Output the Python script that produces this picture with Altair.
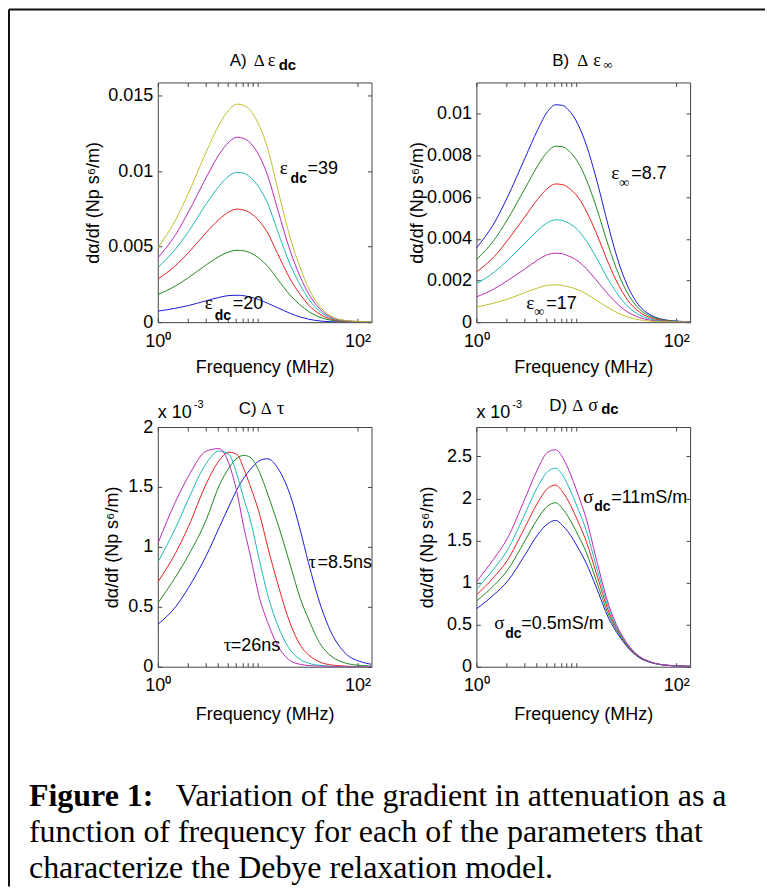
import altair as alt
import pandas as pd

# ---------------- data (values in units of 1e-3 Np s^6/m) ----------------
FREQ = [1, 1.51, 2.03, 3.07, 4.11, 5.17, 6.22, 7.28, 8.33, 10.47, 12.6, 15.8,
        21.2, 26.7, 32.2, 43.1, 54.2, 76.0, 109.6, 137.7]

A_ORDER = ["blue", "green", "red", "cyan", "magenta", "yellow"]
A_blue = [0.73, 0.92, 1.1, 1.42, 1.64, 1.76, 1.78, 1.75, 1.67, 1.47, 1.25, 0.96, 0.58, 0.34, 0.2, 0.07, 0.03, 0.01, 0.0, 0.0]
A_green = [1.83, 2.4, 2.95, 3.8, 4.35, 4.65, 4.76, 4.72, 4.6, 4.2, 3.7, 2.85, 1.78, 1.13, 0.72, 0.3, 0.13, 0.04, 0.01, 0.0]
A_red = [2.85, 3.75, 4.6, 5.95, 6.8, 7.3, 7.48, 7.42, 7.25, 6.65, 5.9, 4.55, 2.85, 1.82, 1.15, 0.48, 0.2, 0.06, 0.02, 0.01]
A_cyan = [3.6, 4.85, 6.0, 7.85, 9.0, 9.68, 9.92, 9.85, 9.62, 8.85, 7.85, 6.05, 3.8, 2.45, 1.55, 0.65, 0.28, 0.08, 0.03, 0.01]
A_magenta = [4.25, 5.8, 7.3, 9.6, 11.1, 11.92, 12.24, 12.15, 11.9, 10.95, 9.7, 7.5, 4.7, 3.0, 1.9, 0.8, 0.34, 0.1, 0.03, 0.01]
A_yellow = [4.91, 6.78, 8.55, 11.3, 13.06, 14.05, 14.43, 14.34, 14.05, 12.95, 11.5, 8.88, 5.57, 3.59, 2.27, 0.95, 0.40, 0.11, 0.04, 0.02]

B_ORDER = ["blue", "green", "red", "cyan", "magenta", "yellow"]
B_blue = [3.56, 4.76, 5.96, 7.88, 9.23, 10.11, 10.43, 10.4, 10.19, 9.47, 8.51, 6.92, 4.52, 2.84, 1.8, 0.77, 0.37, 0.12, 0.04, 0.02]
B_green = [3.0, 3.95, 4.9, 6.42, 7.5, 8.18, 8.44, 8.42, 8.24, 7.65, 6.85, 5.55, 3.6, 2.27, 1.44, 0.62, 0.3, 0.1, 0.03, 0.01]
B_red = [2.4, 3.15, 3.9, 5.07, 5.9, 6.42, 6.63, 6.6, 6.45, 5.98, 5.33, 4.3, 2.78, 1.75, 1.1, 0.48, 0.23, 0.07, 0.02, 0.01]
B_cyan = [1.84, 2.4, 2.95, 3.8, 4.4, 4.78, 4.91, 4.88, 4.76, 4.4, 3.9, 3.12, 2.0, 1.26, 0.79, 0.34, 0.16, 0.05, 0.02, 0.01]
B_magenta = [1.21, 1.6, 1.98, 2.56, 2.98, 3.24, 3.31, 3.28, 3.18, 2.92, 2.57, 2.03, 1.3, 0.81, 0.51, 0.22, 0.1, 0.03, 0.01, 0.0]
B_yellow = [0.72, 0.92, 1.1, 1.42, 1.64, 1.77, 1.79, 1.76, 1.7, 1.55, 1.36, 1.06, 0.67, 0.42, 0.26, 0.11, 0.05, 0.02, 0.01, 0.0]

C_ORDER = ["blue", "green", "red", "cyan", "magenta"]
C_blue = [0.354, 0.5, 0.66, 0.93, 1.16, 1.34, 1.48, 1.576, 1.64, 1.72, 1.735, 1.66, 1.43, 1.14, 0.87, 0.5, 0.29, 0.11, 0.04, 0.02]
C_green = [0.53, 0.75, 0.93, 1.23, 1.51, 1.66, 1.74, 1.763, 1.75, 1.62, 1.44, 1.2, 0.85, 0.57, 0.4, 0.18, 0.09, 0.03, 0.01, 0.005]
C_red = [0.706, 0.95, 1.17, 1.53, 1.72, 1.79, 1.77, 1.65, 1.52, 1.27, 1.0, 0.7, 0.36, 0.18, 0.1, 0.035, 0.015, 0.005, 0.0, 0.0]
C_cyan = [0.87, 1.16, 1.40, 1.70, 1.80, 1.77, 1.60, 1.40, 1.24, 0.88, 0.60, 0.35, 0.14, 0.06, 0.03, 0.01, 0.005, 0.0, 0.0, 0.0]
C_magenta = [1.026, 1.38, 1.59, 1.80, 1.82, 1.69, 1.45, 1.16, 0.95, 0.57, 0.37, 0.18, 0.05, 0.02, 0.01, 0.004, 0.002, 0.0, 0.0, 0.0]

D_ORDER = ["blue", "green", "red", "cyan", "magenta"]
D_blue = [0.687, 0.86, 1.01, 1.33, 1.57, 1.7, 1.74, 1.68, 1.6, 1.41, 1.23, 0.95, 0.57, 0.37, 0.24, 0.105, 0.054, 0.02, 0.008, 0.004]
D_green = [0.78, 0.97, 1.14, 1.5, 1.76, 1.91, 1.95, 1.88, 1.78, 1.56, 1.36, 1.03, 0.61, 0.39, 0.25, 0.11, 0.056, 0.02, 0.008, 0.004]
D_red = [0.853, 1.07, 1.26, 1.66, 1.95, 2.12, 2.16, 2.08, 1.97, 1.72, 1.49, 1.12, 0.65, 0.41, 0.26, 0.115, 0.058, 0.02, 0.008, 0.004]
D_cyan = [0.92, 1.17, 1.38, 1.82, 2.14, 2.32, 2.36, 2.28, 2.15, 1.87, 1.62, 1.2, 0.69, 0.42, 0.27, 0.12, 0.06, 0.02, 0.008, 0.004]
D_magenta = [1.01, 1.29, 1.52, 2.0, 2.35, 2.55, 2.58, 2.49, 2.35, 2.04, 1.76, 1.29, 0.73, 0.44, 0.28, 0.12, 0.063, 0.02, 0.008, 0.004]

X_TICKS = [1, 2, 3, 4, 5, 6, 7, 8, 9, 10, 100]
A_YTICKS = [0, 5, 10, 15]
B_YTICKS = [0, 2, 4, 6, 8, 10]
C_YTICKS = [0, 0.5, 1, 1.5, 2]
D_YTICKS = [0, 0.5, 1, 1.5, 2, 2.5]

# ---------------- styling ----------------
COLORS = {"blue": "#1a1ad6", "green": "#1e8a1e", "red": "#e62020",
          "cyan": "#1cb8b8", "magenta": "#b82ab8", "yellow": "#bfbf2a"}
SANS = "Liberation Sans"
SERIF = "Liberation Serif"
W, H = 214, 240
XDOM = [1, 138]
ONE = pd.DataFrame({"k": [0]})


def long_df(order, series):
    rows = []
    for name, vals in zip(order, series):
        for f, v in zip(FREQ, vals):
            rows.append({"f": f, "v": v, "s": name})
    return pd.DataFrame(rows)


def texts(pieces, ox, oy):
    out = []
    for p in pieces:
        txt, x, y = p[0], p[1], p[2]
        size = p[3] if len(p) > 3 else 18
        weight = p[4] if len(p) > 4 else "normal"
        font = p[5] if len(p) > 5 else SANS
        out.append(
            alt.Chart(ONE).mark_text(
                text=txt, align="left", baseline="alphabetic", fontSize=size,
                fontWeight=weight, font=font, color="black"
            ).encode(x=alt.value(x - ox), y=alt.value(y - oy))
        )
    return out


def panel(order, series, ydom, yticks, ylab, ytitle_x, xtitle_y, extra):
    df = long_df(order, series)
    xs = alt.Scale(type="log", domain=XDOM, nice=False)
    ys = alt.Scale(domain=ydom, nice=False, zero=False)
    lines = alt.Chart(df).mark_line(strokeWidth=1, interpolate="monotone", clip=True).encode(
        x=alt.X("f:Q", scale=xs, axis=alt.Axis(
            orient="bottom", values=X_TICKS, offset=-4, tickSize=4, domain=False, grid=False,
            labelExpr="datum.value == 1 ? '10⁰' : (datum.value == 100 ? '10²' : '')",
            labelFlush=False, labelOverlap=False, labelPadding=10, labelFontSize=18,
            title="Frequency (MHz)", titleY=xtitle_y, titleBaseline="alphabetic",
            titleFontSize=18)),
        y=alt.Y("v:Q", scale=ys, axis=alt.Axis(
            orient="left", values=yticks, offset=-4, tickSize=4, domain=False, grid=False,
            labelExpr=ylab, labelPadding=5, labelFontSize=18,
            title="dα/df (Np s⁶/m)", titleX=ytitle_x, titleY=H / 2, titleAngle=270,
            titleAlign="center", titleBaseline="alphabetic", titleFontSize=18)),
        color=alt.Color("s:N", scale=alt.Scale(domain=order, range=[COLORS[c] for c in order]),
                        legend=None),
    )
    box = alt.Chart(df).mark_line(strokeOpacity=0).encode(
        x=alt.X("f:Q", scale=xs, axis=alt.Axis(
            orient="top", values=X_TICKS, labels=False, offset=-4, tickSize=4,
            domain=False, grid=False, title=None)),
        y=alt.Y("v:Q", scale=ys, axis=alt.Axis(
            orient="right", values=yticks, labels=False, offset=-4, tickSize=4,
            domain=False, grid=False, title=None)),
    )
    return alt.layer(lines, box, *extra).properties(width=W, height=H)


LAB_E3 = "format(datum.value / 1000, '~g')"
LAB = "format(datum.value, '~g')"

# panel A  (origin 157, 81)
oxA, oyA = 157, 81
frame = [
    alt.Chart(ONE).mark_rule(color="#111", strokeWidth=2).encode(
        x=alt.value(-149), x2=alt.value(608), y=alt.value(-73)),
    alt.Chart(ONE).mark_rule(color="#111", strokeWidth=2).encode(
        x=alt.value(-149), y=alt.value(-73), y2=alt.value(805)),
]
A_text = texts([
    ("A)", 229, 65, 17), ("Δ", 253, 65, 17, "normal", SERIF), ("ε", 267, 65, 18, "normal", SERIF),
    ("dc", 278, 69, 15, "bold"),
    ("ε", 279, 173, 19, "normal", SERIF), ("dc", 290, 182, 14, "bold"), ("=39", 307, 173),
    ("ε", 204, 308, 19, "normal", SERIF), ("dc", 214, 319, 14, "bold"), ("=20", 232, 308),
], oxA, oyA)
pA = panel(A_ORDER, [A_blue, A_green, A_red, A_cyan, A_magenta, A_yellow],
           [0, 15.86], A_YTICKS, LAB_E3, -63, 54, A_text + frame)

# panel B  (origin 476, 81)
oxB, oyB = 476, 81
B_text = texts([
    ("B)", 552, 65, 17), ("Δ", 577, 65, 17, "normal", SERIF), ("ε", 593, 65, 18, "normal", SERIF),
    ("∞", 603, 68, 13, "normal", SERIF),
    ("ε", 611, 178, 19, "normal", SERIF), ("∞", 619, 186, 14, "normal", SERIF), ("=8.7", 631, 178),
    ("ε", 526, 308, 19, "normal", SERIF), ("∞", 534, 315, 14, "normal", SERIF), ("=17", 546, 308),
], oxB, oyB)
pB = panel(B_ORDER, [B_blue, B_green, B_red, B_cyan, B_magenta, B_yellow],
           [0, 11.5], B_YTICKS, LAB_E3, -58, 54, B_text)

# panel C  (origin 157, 426)
oxC, oyC = 157, 426
C_text = texts([
    ("x 10", 157, 417, 18), ("-3", 193, 407, 11),
    ("C)", 238, 413, 17), ("Δ", 260, 413, 17, "normal", SERIF), ("τ", 276, 413, 19, "normal", SERIF),
    ("τ", 308, 567, 19, "normal", SERIF), ("=8.5ns", 317, 567),
    ("τ", 223, 650, 19, "normal", SERIF), ("=26ns", 230, 650),
    ("Figure 1:", 28, 805, 32, "bold", SERIF),
    ("Variation of the gradient in attenuation as a", 175, 805, 32, "normal", SERIF),
    ("function of frequency for each of the parameters that", 28, 842, 32, "normal", SERIF),
    ("characterize the Debye relaxation model.", 28, 878, 32, "normal", SERIF),
], oxC, oyC)
pC = panel(C_ORDER, [C_blue, C_green, C_red, C_cyan, C_magenta],
           [0, 2.0], C_YTICKS, LAB, -44, 57, C_text)

# panel D  (origin 476, 426)
oxD, oyD = 476, 426
D_text = texts([
    ("x 10", 476, 417, 18), ("-3", 512, 407, 11),
    ("D)", 549, 410, 17), ("Δ", 572, 410, 17, "normal", SERIF), ("σ", 588, 410, 18, "normal", SERIF),
    ("dc", 601, 413, 15, "bold"),
    ("σ", 583, 502, 19, "normal", SERIF), ("dc", 594, 510, 14, "bold"), ("=11mS/m", 611, 502),
    ("σ", 494, 628, 19, "normal", SERIF), ("dc", 505, 637, 14, "bold"), ("=0.5mS/m", 521, 628),
], oxD, oyD)
pD = panel(D_ORDER, [D_blue, D_green, D_red, D_cyan, D_magenta],
           [0, 2.85], D_YTICKS, LAB, -48, 57, D_text)

chart = alt.concat(pA, pB, pC, pD, columns=2, spacing=105, bounds="flush").properties(
    padding={"left": 7, "top": 7, "right": 0, "bottom": 0},
    background="white",
).configure_view(stroke="#444", strokeWidth=1).configure_axis(
    labelFont=SANS, titleFont=SANS, labelColor="black", titleColor="black",
    tickColor="#444", titleFontWeight="normal",
)

chart.save("out.html", embed_options={"renderer": "svg", "actions": False})
